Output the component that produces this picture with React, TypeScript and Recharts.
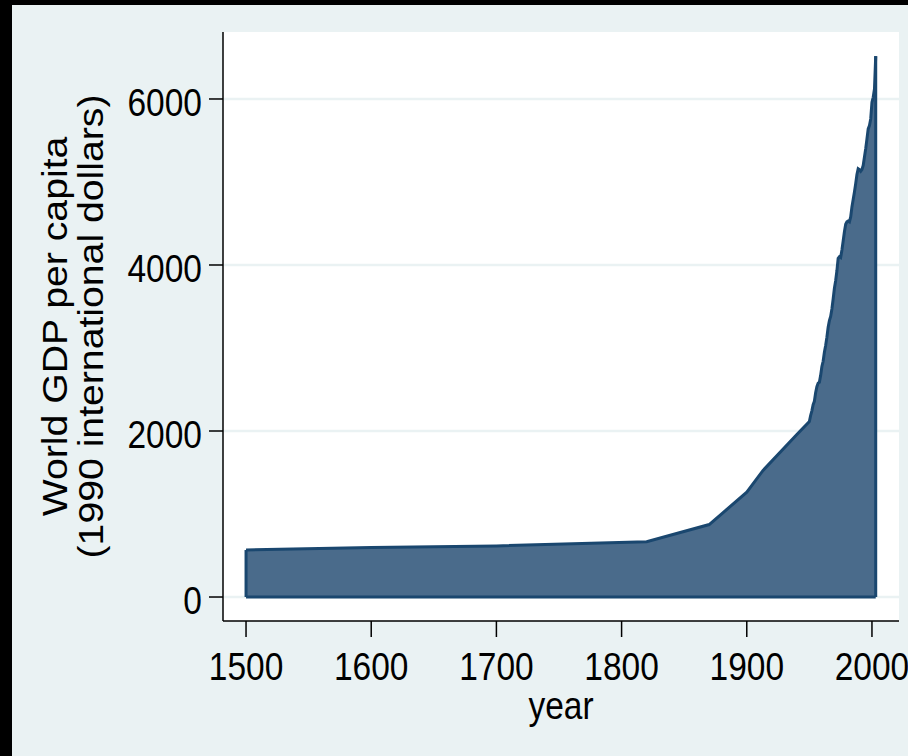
import { AreaChart, Area, XAxis, YAxis, CartesianGrid, ReferenceLine } from "recharts"

const years = [
  1500, 1600, 1700, 1820, 1870, 1900, 1913, 1940,
  1950, 1951, 1952, 1953, 1954, 1955, 1956, 1957, 1958, 1959,
  1960, 1961, 1962, 1963, 1964, 1965, 1966, 1967, 1968, 1969,
  1970, 1971, 1972, 1973, 1974, 1975, 1976, 1977, 1978, 1979,
  1980, 1981, 1982, 1983, 1984, 1985, 1986, 1987, 1988, 1989,
  1990, 1991, 1992, 1993, 1994, 1995, 1996, 1997, 1998, 1999,
  2000, 2001, 2002, 2003,
]

const gdpPerCapita = [
  566, 596, 616, 667, 873, 1262, 1526, 1958,
  2113, 2187, 2243, 2318, 2358, 2460, 2534, 2577, 2587, 2670,
  2777, 2840, 2950, 3030, 3130, 3250, 3330, 3380, 3470, 3590,
  3720, 3810, 3930, 4080, 4100, 4090, 4180, 4290, 4400, 4490,
  4520, 4530, 4520, 4580, 4700, 4790, 4880, 4980, 5090, 5160,
  5150, 5130, 5150, 5200, 5300, 5400, 5520, 5640, 5680, 5760,
  5960, 6020, 6120, 6516,
]

const xTicks = [1500, 1600, 1700, 1800, 1900, 2000]
const yTicks = [0, 2000, 4000, 6000]

const data = years.map((year, i) => ({ year, gdp: gdpPerCapita[i] }))

const FONT = "'Liberation Sans', Arial, sans-serif"
const STRETCH = 1.15
const OUTLINE = "#1a476f"

function YTick(props: any) {
  const { x, y, payload } = props
  return (
    <g transform={`translate(${x},${y}) scale(1,${STRETCH})`}>
      <text x={0} y={0} dy={14.5} textAnchor="end" fontSize={33.5} fontFamily={FONT} fill="#000">
        {payload.value}
      </text>
    </g>
  )
}

function XTick(props: any) {
  const { x, y, payload } = props
  return (
    <g transform={`translate(${x},${y}) scale(1,${STRETCH})`}>
      <text x={0} y={0} dy={37} textAnchor="middle" fontSize={33.5} fontFamily={FONT} fill="#000">
        {payload.value}
      </text>
    </g>
  )
}

function XTitle(props: any) {
  const { viewBox } = props
  const cx = viewBox.x + viewBox.width / 2
  return (
    <g transform={`translate(${cx},${viewBox.y + 98}) scale(1,${STRETCH})`}>
      <text x={0} y={0} textAnchor="middle" fontSize={33.5} fontFamily={FONT} fill="#000">
        year
      </text>
    </g>
  )
}

function YTitle(props: any) {
  const { viewBox } = props
  const cy = viewBox.y + viewBox.height / 2
  return (
    <g>
      <text
        transform={`translate(55,${cy}) rotate(-90) scale(1.12,1)`}
        textAnchor="middle"
        fontSize={35}
        fontFamily={FONT}
        fill="#000"
      >
        World GDP per capita
      </text>
      <text
        transform={`translate(91,${cy}) rotate(-90) scale(1.12,1)`}
        textAnchor="middle"
        fontSize={35}
        fontFamily={FONT}
        fill="#000"
      >
        (1990 international dollars)
      </text>
    </g>
  )
}

export default function App() {
  const first = years[0]
  const last = years[years.length - 1]

  return (
    <div style={{ position: "absolute", left: 0, top: 0, width: 908, height: 756, background: "#000" }}>
      <div style={{ position: "absolute", left: 12, top: 5, width: 896, height: 751, background: "#eaf2f3" }}>
        <AreaChart
          width={896}
          height={751}
          data={data}
          margin={{ top: 27, right: 9, bottom: 0, left: 0 }}
        >
          <CartesianGrid
            vertical={false}
            fill="#ffffff"
            stroke="#eaf2f3"
            strokeWidth={2.5}
            horizontalValues={yTicks}
          />
          <XAxis
            dataKey="year"
            type="number"
            domain={[1481.6, 2021.6]}
            ticks={xTicks}
            allowDataOverflow
            height={135}
            tickSize={16}
            tickMargin={0}
            tick={<XTick />}
            axisLine={{ stroke: "#000", strokeWidth: 1.5 }}
            tickLine={{ stroke: "#000", strokeWidth: 1.5 }}
            label={<XTitle />}
          />
          <YAxis
            type="number"
            domain={[-289, 6807]}
            ticks={yTicks}
            allowDataOverflow
            width={211}
            tickSize={14}
            tickMargin={7}
            tick={<YTick />}
            axisLine={{ stroke: "#000", strokeWidth: 1.5 }}
            tickLine={{ stroke: "#000", strokeWidth: 1.5 }}
            label={<YTitle />}
          />
          <Area
            dataKey="gdp"
            type="linear"
            baseValue={0}
            fill="#4a6b8b"
            fillOpacity={1}
            stroke={OUTLINE}
            strokeWidth={3}
            isAnimationActive={false}
          />
          <ReferenceLine
            segment={[{ x: first, y: 0 }, { x: last, y: 0 }]}
            stroke={OUTLINE}
            strokeWidth={3}
          />
          <ReferenceLine
            segment={[{ x: first, y: 0 }, { x: first, y: gdpPerCapita[0] }]}
            stroke={OUTLINE}
            strokeWidth={3}
          />
          <ReferenceLine
            segment={[{ x: last, y: 0 }, { x: last, y: gdpPerCapita[gdpPerCapita.length - 1] }]}
            stroke={OUTLINE}
            strokeWidth={3}
          />
        </AreaChart>
      </div>
    </div>
  )
}
